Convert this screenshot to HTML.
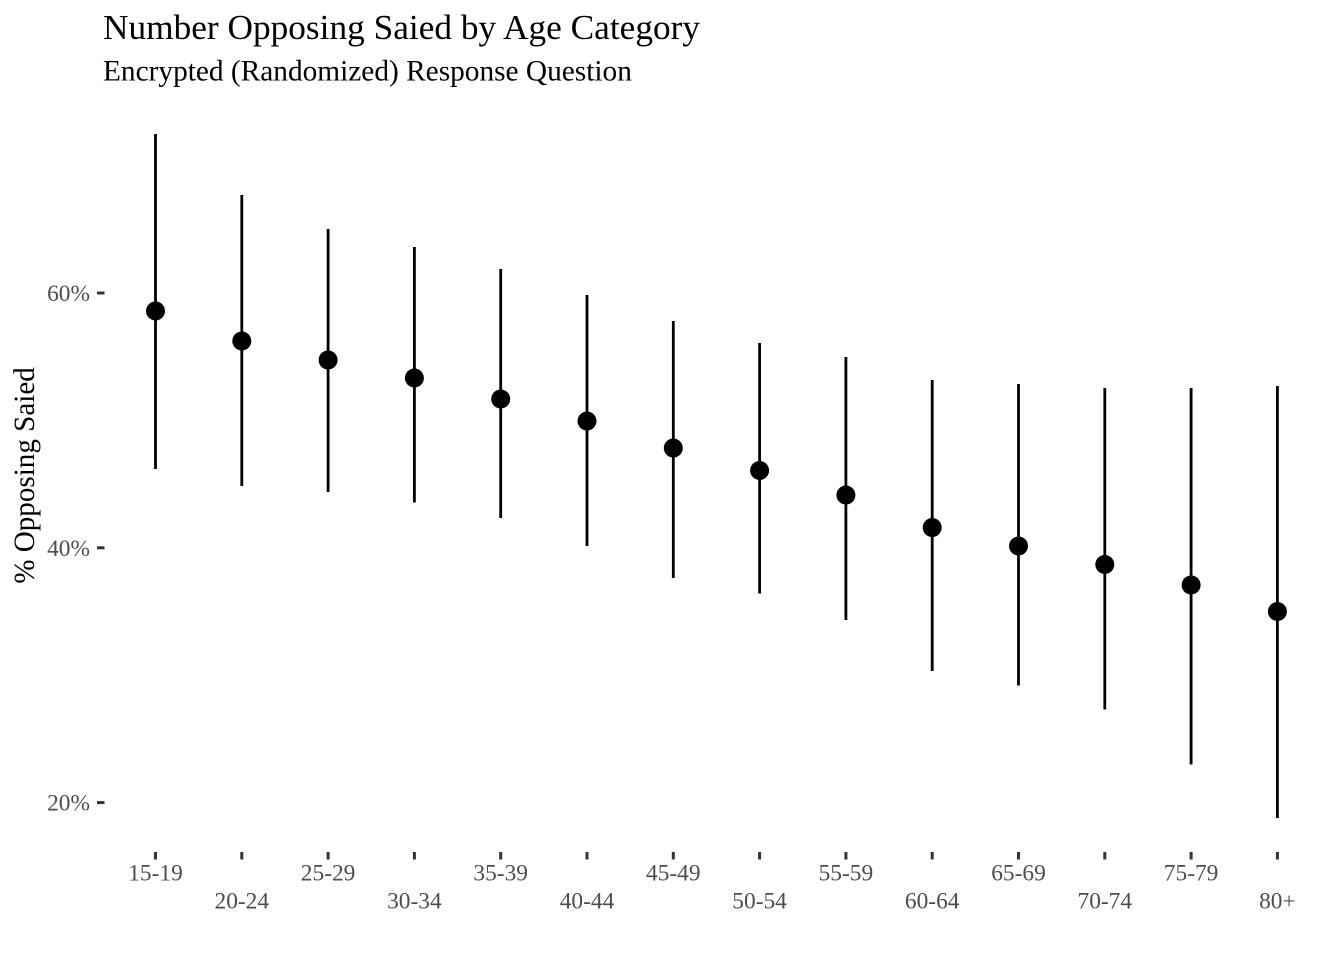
<!DOCTYPE html>
<html lang="en">
<head>
<meta charset="utf-8">
<title>Number Opposing Saied by Age Category</title>
<style>
html,body{margin:0;padding:0;background:#fff;}
svg{display:block;font-family:"Liberation Serif",serif;}
</style>
</head>
<body>
<svg id="chart" width="1344" height="960" viewBox="0 0 1344 960" xmlns="http://www.w3.org/2000/svg">
  <rect width="1344" height="960" fill="#fff"/>
  <text x="103" y="39" font-size="35.3" fill="#000">Number Opposing Saied by Age Category</text>
  <text x="103" y="80.5" font-size="29.35" fill="#000">Encrypted (Randomized) Response Question</text>
  <text transform="translate(34 475.5) rotate(-90)" text-anchor="middle" font-size="29.1" fill="#000">% Opposing Saied</text>
  <g id="y-axis"></g>
  <g id="x-axis"></g>
  <g id="series"></g>
</svg>
<script>
const categories = ["15-19","20-24","25-29","30-34","35-39","40-44","45-49","50-54","55-59","60-64","65-69","70-74","75-79","80+"];
const estimates = [58.59,56.23,54.74,53.33,51.68,49.95,47.83,46.07,44.14,41.59,40.14,38.69,37.08,35.0];
const lowerBounds = [46.19,44.85,44.38,43.56,42.34,40.14,37.63,36.41,34.33,30.33,29.19,27.31,22.99,18.79];
const upperBounds = [72.48,67.69,65.02,63.61,61.88,59.84,57.80,56.08,54.98,53.17,52.86,52.54,52.54,52.70];
const yTicks = [20,40,60];
const yTickLabels = ["20%","40%","60%"];

const NS = "http://www.w3.org/2000/svg";
function xScale(i){ return 155.5 + i * 86.3; }
function yScale(v){ return 293 + (60 - v) * 12.74; }
function make(tag, parent, attrs){
  const el = document.createElementNS(NS, tag);
  for (const k in attrs) el.setAttribute(k, attrs[k]);
  parent.appendChild(el);
  return el;
}

const yAxis = document.getElementById("y-axis");
yTicks.forEach(function(t, i){
  const y = yScale(t);
  const tick = make("line", yAxis, {x1:97, x2:104.5, y1:y, y2:y, stroke:"#333", "stroke-width":3});
  
  
  const label = make("text", yAxis, {x:90, y:y + 8, "text-anchor":"end", "font-size":23.4, fill:"#4d4d4d"});
  
  
  label.textContent = yTickLabels[i];
});

const xAxis = document.getElementById("x-axis");
categories.forEach(function(c, i){
  const x = xScale(i);
  const tick = make("line", xAxis, {x1:x, x2:x, y1:852, y2:859.5, stroke:"#333", "stroke-width":3});
  
  
  const label = make("text", xAxis, {x:x, y:i % 2 === 0 ? 880.5 : 908.5, "text-anchor":"middle", "font-size":23.4, fill:"#4d4d4d"});
  
  
  label.textContent = c;
});

const series = document.getElementById("series");
categories.forEach(function(c, i){
  const x = xScale(i);
  const range = make("line", series, {x1:x, x2:x, y1:yScale(upperBounds[i]), y2:yScale(lowerBounds[i]), stroke:"#000", "stroke-width":2.8});
  
  
  const dot = make("circle", series, {cx:x, cy:yScale(estimates[i]), r:9.5, fill:"#000"});
  
  
});
</script>
</body>
</html>
